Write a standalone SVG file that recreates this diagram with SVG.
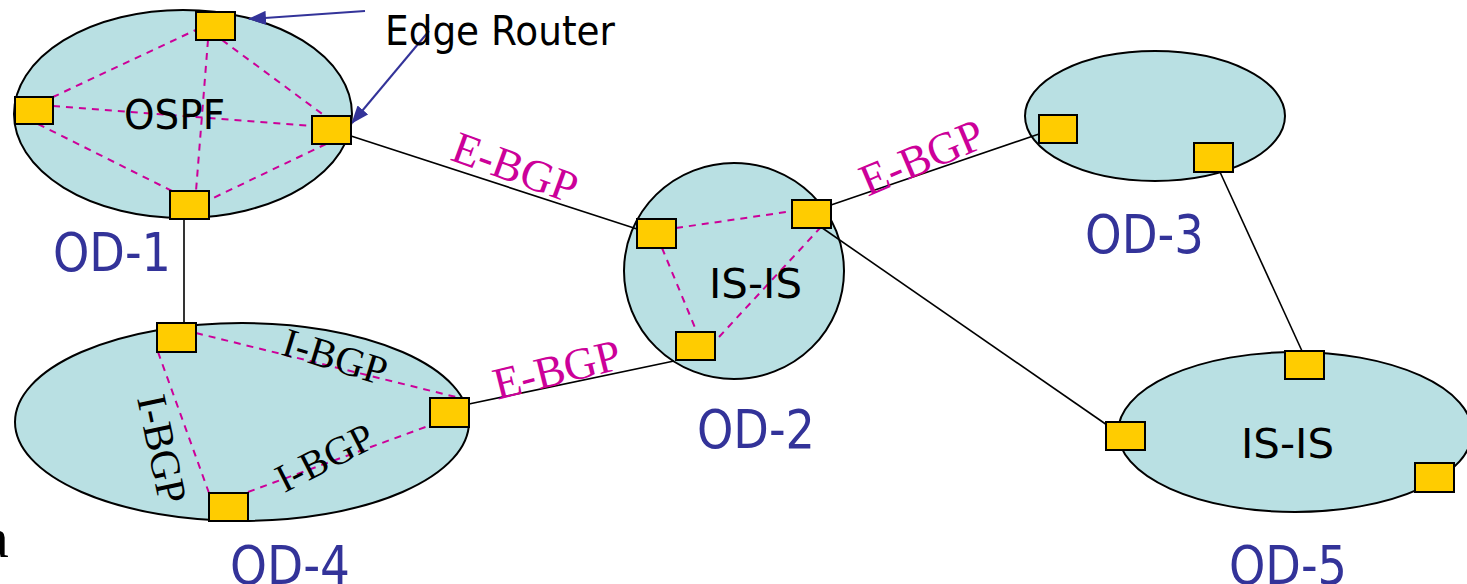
<svg xmlns="http://www.w3.org/2000/svg" width="1467" height="584" viewBox="0 0 1467 584">
<defs>
<style>
.dom{fill:#b9e0e3;stroke:#000;stroke-width:2}
.ibgp{stroke:#cc0099;stroke-width:2;stroke-dasharray:7,6;fill:none}
.link{stroke:#000;stroke-width:1.6;fill:none}
.rt{fill:#ffcc00;stroke:#000;stroke-width:2}
.sans{font-family:"DejaVu Sans","Liberation Sans",sans-serif;fill:#000}
.od{font-family:"DejaVu Sans","Liberation Sans",sans-serif;fill:#333399;font-size:53px}
.serif{font-family:"Liberation Serif","Times New Roman",serif}
.eb{fill:#cc0099;font-size:45px}
.ib{fill:#000}
.arr{stroke:#333399;stroke-width:2;fill:none}
</style>
<marker id="ah" markerWidth="18" markerHeight="14" refX="17" refY="7" orient="auto" markerUnits="userSpaceOnUse">
<path d="M0,0 L18,7 L0,14 z" fill="#333399"/>
</marker>
</defs>

<g id="od1">
<ellipse class="dom" cx="183" cy="114" rx="169" ry="104"/>
<path class="ibgp" d="M200,28 L53,97 M208,40 L196,191 M222,40 L325,116 M53,106 L312,126 M38,124 L172,191 M326,144 L209,200"/>
<text class="sans" x="124" y="129" font-size="40" textLength="101" lengthAdjust="spacingAndGlyphs">OSPF</text>
<text class="od" x="53" y="271" textLength="118" lengthAdjust="spacingAndGlyphs">OD-1</text>
</g>

<g id="od2">
<ellipse class="dom" cx="734" cy="271" rx="110" ry="108"/>
<path class="ibgp" d="M676,228 L807,209 M662,248 L701,342 M821,227 L719,337"/>
<text class="sans" x="709" y="298" font-size="41" textLength="93" lengthAdjust="spacingAndGlyphs">IS-IS</text>
<text class="od" x="697" y="448" textLength="118" lengthAdjust="spacingAndGlyphs">OD-2</text>
</g>

<g id="od3">
<ellipse class="dom" cx="1155" cy="116" rx="130" ry="65"/>
<text class="od" x="1085" y="253" textLength="119" lengthAdjust="spacingAndGlyphs">OD-3</text>
</g>

<g id="od4">
<ellipse class="dom" cx="242" cy="422" rx="227" ry="99"/>
<path class="ibgp" d="M196,333 L460,398 M158,352 L209,493 M248,492 L431,425"/>
<text class="serif ib" font-size="41" text-anchor="middle" transform="translate(335,357) rotate(17)" y="13.5">I-BGP</text>
<text class="serif ib" font-size="40" text-anchor="middle" transform="translate(325,458) rotate(-27)" y="13">I-BGP</text>
<text class="serif ib" font-size="42" text-anchor="middle" transform="translate(162,449) rotate(78)" y="14">I-BGP</text>
<text class="od" x="230" y="584" textLength="120" lengthAdjust="spacingAndGlyphs">OD-4</text>
</g>

<g id="od5">
<ellipse class="dom" cx="1295" cy="432" rx="177" ry="80"/>
<text class="sans" x="1241" y="458" font-size="41" textLength="93" lengthAdjust="spacingAndGlyphs">IS-IS</text>
<text class="od" x="1229" y="584" textLength="118" lengthAdjust="spacingAndGlyphs">OD-5</text>
</g>

<g id="connectors">
<line class="link" x1="184" y1="219" x2="184" y2="323"/>
<line class="link" x1="351" y1="136" x2="637" y2="229"/>
<line class="link" x1="831" y1="205" x2="1039" y2="134"/>
<line class="link" x1="818" y1="225" x2="1107" y2="425"/>
<line class="link" x1="1220" y1="172" x2="1302" y2="351"/>
<line class="link" x1="469" y1="404" x2="674" y2="361"/>
<text class="serif eb" text-anchor="middle" transform="translate(515,168) rotate(20)" y="14.5">E-BGP</text>
<text class="serif eb" text-anchor="middle" transform="translate(922,158) rotate(-23)" y="14.5">E-BGP</text>
<text class="serif eb" text-anchor="middle" transform="translate(557,370) rotate(-14)" y="14.5">E-BGP</text>
<line class="arr" x1="365" y1="11" x2="249" y2="19" marker-end="url(#ah)"/>
<line class="arr" x1="429" y1="31" x2="352" y2="123" marker-end="url(#ah)"/>
</g>

<g id="routers">
<rect id="r1a" class="rt" x="196" y="12" width="39" height="28"/>
<rect id="r1b" class="rt" x="15" y="97" width="38" height="27"/>
<rect id="r1c" class="rt" x="312" y="116" width="39" height="28"/>
<rect id="r1d" class="rt" x="170" y="191" width="39" height="28"/>
<rect id="r2a" class="rt" x="637" y="219" width="39" height="29"/>
<rect id="r2b" class="rt" x="792" y="200" width="39" height="28"/>
<rect id="r2c" class="rt" x="676" y="332" width="39" height="28"/>
<rect id="r3a" class="rt" x="1039" y="115" width="38" height="28"/>
<rect id="r3b" class="rt" x="1194" y="143" width="39" height="29"/>
<rect id="r4a" class="rt" x="157" y="323" width="39" height="29"/>
<rect id="r4b" class="rt" x="430" y="398" width="39" height="29"/>
<rect id="r4c" class="rt" x="209" y="493" width="39" height="28"/>
<rect id="r5a" class="rt" x="1285" y="351" width="39" height="28"/>
<rect id="r5b" class="rt" x="1106" y="422" width="39" height="28"/>
<rect id="r5c" class="rt" x="1415" y="463" width="39" height="29"/>
</g>

<text class="sans" x="385" y="45" font-size="41" textLength="230" lengthAdjust="spacingAndGlyphs">Edge Router</text>
<text class="serif" x="-17" y="557" font-size="58" fill="#000">a</text>
</svg>
